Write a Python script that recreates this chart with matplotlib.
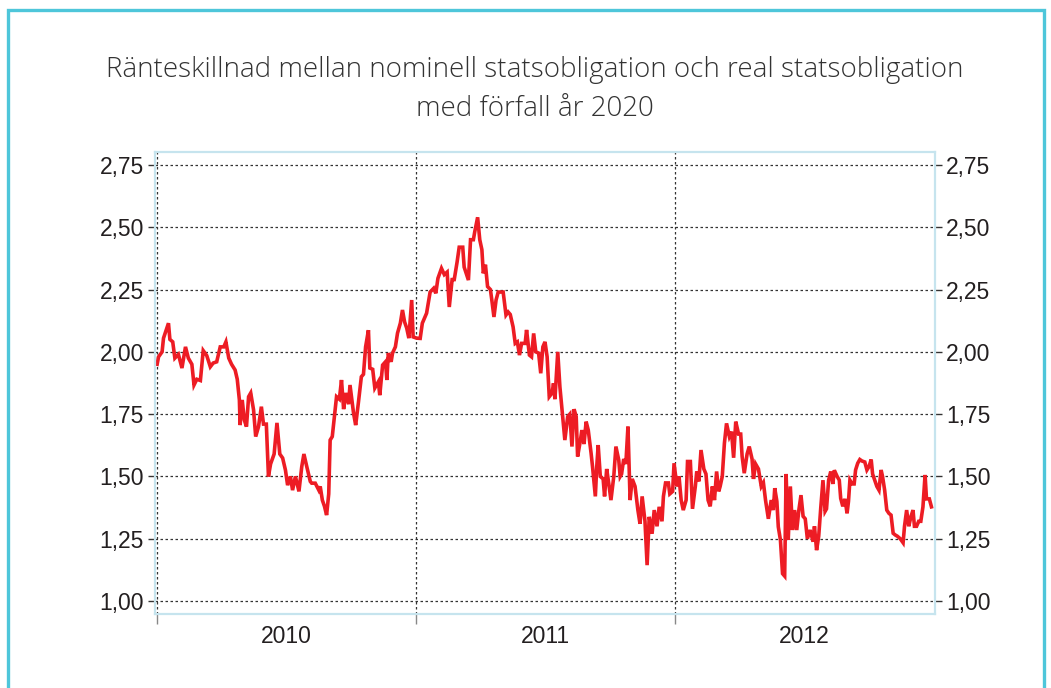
import numpy as np
import pandas as pd
import matplotlib
matplotlib.use("Agg")
import matplotlib.pyplot as plt
import matplotlib.dates as mdates
from matplotlib.patches import Rectangle
from matplotlib.ticker import FixedLocator, FuncFormatter

# ---------------- Data ----------------

start = pd.Timestamp("2010-01-01")

# days after 2010-01-01
days = [
    0, 2, 7, 9, 13, 16, 18, 22, 25, 30, 35, 40, 44, 49, 52, 56, 61, 65, 70, 75,
    79, 84, 89, 94, 97, 101, 105, 110, 113, 116, 117, 120, 123, 126, 129, 132, 136, 139, 143, 147,
    150, 154, 157, 160, 165, 169, 173, 177, 181, 184, 188, 191, 195, 200, 204, 207, 211, 216,
    218, 223, 228, 230, 233, 236, 239, 242, 244, 247, 250, 253, 257, 260, 263, 266, 270, 272,
    277, 280, 284, 288, 291, 294, 298, 300, 304, 307, 312, 314, 318, 322, 324, 326, 330, 332,
    336, 339, 343, 346, 349, 352, 355, 359, 361, 366, 371, 374, 380, 385, 390, 393, 396, 401,
    405, 409, 412, 416, 419, 423, 426, 431, 433,
    439, 442, 446, 448, 452, 455, 458, 460, 463, 466, 470, 472, 475, 478, 481, 485, 488, 492,
    495, 498, 502, 505, 508, 511, 514, 519, 521, 525, 528, 531, 534, 538, 541, 544, 547, 550,
    553, 557, 559, 561, 565, 568, 572, 575, 579, 582, 585, 588, 591, 593, 597, 599, 602, 605,
    608, 612, 614, 618, 620, 622, 625, 629, 631, 634, 637, 640, 644, 647, 651, 653,
    655, 658, 661, 664, 667, 670, 674, 678, 681, 684, 688, 691, 694, 698, 701, 705, 708, 712,
    714, 717, 721, 723, 727, 729, 733, 736, 739, 742, 746, 748, 752, 755, 759, 761, 764, 767,
    771, 774, 777, 780, 783, 786, 789, 792, 794, 797, 800, 803, 807, 810, 813, 816, 820, 823,
    825, 828, 832, 835, 839, 841, 844, 848, 852, 855, 858, 862, 866, 869,
    871, 874, 876, 879, 882, 885, 887, 890, 893, 896, 899, 902, 905, 908, 911, 914, 917, 921,
    925, 927, 930, 933, 936, 939, 942, 944, 947, 950, 953, 955, 959, 962, 964, 967, 970, 973,
    975, 977, 980, 983, 985, 988, 991, 994, 998, 1001, 1004, 1007, 1009, 1012, 1015, 1018, 1021, 1023,
    1026, 1029, 1032, 1035, 1038, 1041, 1044, 1048, 1052, 1054, 1057, 1060, 1063, 1066, 1068, 1071,
    1074, 1077, 1080, 1083, 1085, 1089, 1092,
]

spread = [
    1.95, 1.98, 2.00, 2.055, 2.09, 2.115, 2.05, 2.04, 1.975, 1.99, 1.935, 2.02, 1.975, 1.95, 1.867, 1.89, 1.885, 2.005, 1.985, 1.94,
    1.955, 1.96, 2.02, 2.02, 2.04, 1.975, 1.95, 1.927, 1.89, 1.807, 1.706, 1.807, 1.726, 1.70, 1.82, 1.835, 1.767, 1.66, 1.70, 1.78,
    1.71, 1.71, 1.50, 1.55, 1.59, 1.715, 1.59, 1.574, 1.525, 1.465, 1.50, 1.445, 1.50, 1.44, 1.54, 1.59, 1.54, 1.48,
    1.473, 1.473, 1.445, 1.46, 1.405, 1.38, 1.345, 1.43, 1.646, 1.66, 1.74, 1.82, 1.81, 1.887, 1.77, 1.835, 1.79, 1.867,
    1.754, 1.706, 1.80, 1.90, 1.91, 2.02, 2.087, 1.935, 1.93, 1.855, 1.88, 1.826, 1.947, 1.96, 1.887, 1.995, 1.96, 1.995,
    2.02, 2.075, 2.115, 2.168, 2.12, 2.095, 2.055, 2.208, 2.06, 2.055, 2.054, 2.115, 2.155, 2.24, 2.255, 2.235, 2.295, 2.335,
    2.31, 2.32, 2.18, 2.29, 2.29, 2.36, 2.42, 2.42, 2.34,
    2.288, 2.45, 2.45, 2.483, 2.54, 2.45, 2.41, 2.315, 2.35, 2.262, 2.25, 2.208, 2.14, 2.208, 2.24, 2.24, 2.24, 2.148,
    2.16, 2.15, 2.10, 2.034, 2.04, 1.987, 2.034, 2.034, 2.088, 1.987, 1.98, 2.074, 2.0, 1.995, 1.914, 2.02, 2.04, 1.98,
    1.82, 1.835, 1.874, 1.81, 2.00, 1.86, 1.74, 1.646, 1.74, 1.75, 1.62, 1.77, 1.74, 1.58, 1.646, 1.686, 1.63, 1.72,
    1.686, 1.593, 1.54, 1.42, 1.54, 1.626, 1.50, 1.49, 1.42, 1.53, 1.47, 1.405, 1.50, 1.62, 1.566, 1.50,
    1.51, 1.57, 1.55, 1.70, 1.405, 1.49, 1.46, 1.365, 1.31, 1.42, 1.32, 1.144, 1.338, 1.27, 1.365, 1.30, 1.378, 1.32,
    1.42, 1.474, 1.474, 1.43, 1.44, 1.553, 1.46, 1.50, 1.405, 1.365, 1.405, 1.56, 1.56, 1.37, 1.46, 1.52, 1.48, 1.606,
    1.53, 1.51, 1.405, 1.38, 1.46, 1.405, 1.52, 1.44, 1.46, 1.50, 1.633, 1.713, 1.66, 1.68, 1.575, 1.72, 1.67, 1.67,
    1.58, 1.513, 1.59, 1.62, 1.57, 1.49, 1.55, 1.53, 1.46, 1.475, 1.405, 1.33, 1.405, 1.365,
    1.453, 1.40, 1.298, 1.245, 1.11, 1.10, 1.51, 1.245, 1.46, 1.285, 1.365, 1.285, 1.365, 1.425, 1.34, 1.33, 1.25, 1.285,
    1.238, 1.30, 1.204, 1.26, 1.378, 1.485, 1.36, 1.37, 1.485, 1.52, 1.47, 1.525, 1.50, 1.485, 1.412, 1.38, 1.41, 1.352,
    1.40, 1.485, 1.47, 1.47, 1.526, 1.553, 1.568, 1.562, 1.558, 1.526, 1.54, 1.568, 1.51, 1.485, 1.46, 1.445, 1.526, 1.50,
    1.445, 1.365, 1.352, 1.345, 1.272, 1.265, 1.26, 1.25, 1.234, 1.30, 1.365, 1.30, 1.338, 1.365, 1.30, 1.30,
    1.32, 1.32, 1.378, 1.506, 1.41, 1.41, 1.378,
]

year_labels = ["2010", "2011", "2012"]
y_ticks = [1.00, 1.25, 1.50, 1.75, 2.00, 2.25, 2.50, 2.75]

title = ("Ränteskillnad mellan nominell statsobligation och real statsobligation\n"
         "med förfall år 2020")

dates = start + pd.to_timedelta(days, unit="D")

# ---------------- Figure ----------------

fig = plt.figure(figsize=(10.51, 6.88), dpi=100)

# cyan frame around the whole box
fig.patches.append(Rectangle((8 / 1051, -0.05), 1036 / 1051, 1 - 10 / 688 + 0.05,
                             transform=fig.transFigure, fill=False,
                             edgecolor="#4ec6da", linewidth=2.4))

fig.text(0.509, 0.87, title, ha="center", va="center", fontsize=20,
         family="Open Sans", fontweight="light", color="#333333",
         linespacing=1.5)

ax = fig.add_axes([155 / 1051, 1 - 614 / 688, 780 / 1051, 462 / 688])

ax.plot(dates, spread, color="#ed1c24", linewidth=2.6, solid_joinstyle="miter")

ax.set_ylim(0.948, 2.802)
ax.set_xlim(start - pd.Timedelta(days=3), start + pd.Timedelta(days=1097))

year_starts = [pd.Timestamp(y + "-01-01") for y in year_labels]
mid_years = [pd.Timestamp(y + "-07-02") for y in year_labels]

ax.xaxis.set_major_locator(FixedLocator(mdates.date2num(year_starts)))
ax.xaxis.set_minor_locator(FixedLocator(mdates.date2num(mid_years)))
ax.xaxis.set_major_formatter(FuncFormatter(lambda v, p: ""))
ax.xaxis.set_minor_formatter(FuncFormatter(lambda v, p: year_labels[p] if p is not None and p < 3 else ""))

ax.set_yticks(y_ticks)
ax.yaxis.set_major_formatter(FuncFormatter(lambda v, p: f"{v:.2f}".replace(".", ",")))

ax.grid(True, which="major", color="#333333", linestyle=(0, (2, 2)), linewidth=0.9)

ax.tick_params(axis="y", which="major", direction="out", length=5, width=1,
               color="#333333", left=True, right=True, labelleft=True,
               labelright=True, labelsize=16.5, labelcolor="#231f20", pad=3)
ax.tick_params(axis="x", which="major", direction="out", length=7, width=1,
               color="#888888")
ax.tick_params(axis="x", which="minor", length=0, labelsize=16.5,
               labelcolor="#231f20", pad=8)

for lab in ax.get_yticklabels() + ax.get_xticklabels(minor=True):
    lab.set_family("Liberation Sans")

for s in ax.spines.values():
    s.set_color("#c6e4ee")
    s.set_linewidth(1.6)

ax.set_axisbelow(True)

fig.savefig("out.png", dpi=100)
